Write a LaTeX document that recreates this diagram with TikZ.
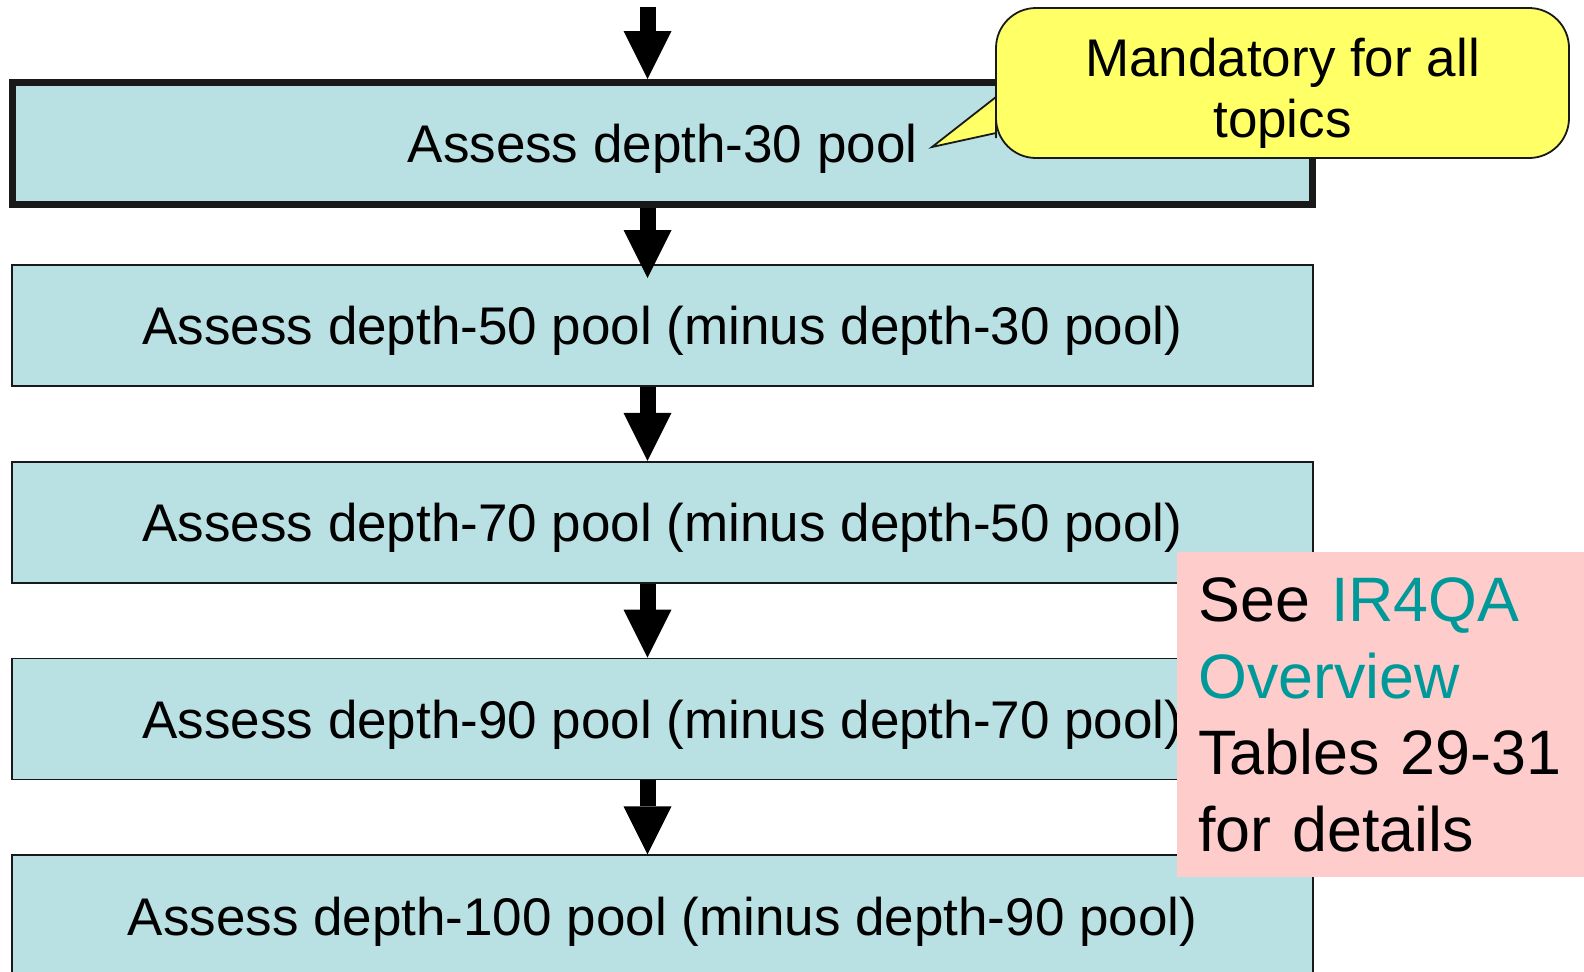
\documentclass[tikz,border=0pt]{standalone}
\usepackage{fontspec}
\setmainfont{Liberation Sans}
\usepackage{xcolor}
\usetikzlibrary{arrows.meta,positioning}

\definecolor{poolcyan}{RGB}{185,224,227}
\definecolor{noteyellow}{RGB}{255,255,102}
\definecolor{seepink}{RGB}{255,204,204}
\definecolor{linkteal}{RGB}{0,153,153}

\begin{document}
\begin{tikzpicture}[
  x=0.5pt, y=-0.5pt,
  font=\fontsize{26.5pt}{31.8pt}\selectfont,
  pool/.style={draw=black!90, line width=0.9pt, fill=poolcyan,
               minimum width=650.5pt, minimum height=60.5pt, inner sep=0pt,
               text height=19.2pt, text depth=0pt},
  firstpool/.style={pool, line width=3.5pt, minimum width=649.75pt, minimum height=61pt},
  arr/.style={line width=8pt, -{Triangle[width=24pt, length=24pt, line width=0pt]}},
  note/.style={draw=black!90, line width=0.9pt, fill=noteyellow},
  see/.style={fill=seepink, anchor=north west, align=left, text width=190pt,
              inner xsep=10.5pt, inner ysep=0pt, minimum height=162.5pt,
              font=\fontsize{31.4pt}{38.3pt}\selectfont}
]
\useasboundingbox (0,0) rectangle (1584,971);
\clip (0,0) rectangle (1584,971);
% --- assessment pools ---
\node[firstpool] (b1) at (662.5,143.5) {Assess depth-30 pool};
\node[pool, below=28pt of b1] (b2) {Assess depth-50 pool (minus depth-30 pool)};
\node[pool, below=37pt of b2] (b3) {Assess depth-70 pool (minus depth-50 pool)};
\node[pool, below=37pt of b3] (b4) {Assess depth-90 pool (minus depth-70 pool)};
\node[pool, below=37pt of b4] (b5) {Assess depth-100 pool (minus depth-90 pool)};
% --- arrows ---
\coordinate (src) at (647.5,7);
\draw[arr] (src) -- (src |- b1.north);
\draw[arr, shorten >=-7pt] (b1.south -| src) -- (b2.north -| src);
\draw[arr] (b2.south -| src) -- (b3.north -| src);
\draw[arr] (b3.south -| src) -- (b4.north -| src);
\draw[arr] (b4.south -| src) -- (b5.north -| src);
% --- callout ---
\coordinate (tip) at (932,147);
\draw[note] (996,90) -- (996,97) -- (tip) -- (996,133) -- (996,138)
  [rounded corners=20pt] -- (996,158) -- (1569,158) -- (1569,8) -- (996,8) -- cycle;
\node[align=center, font=\fontsize{26.5pt}{30.5pt}\selectfont] (note) at (1282.5,93)
  {Mandatory for all\\topics};
% --- pointer to tables ---
\node[see] (see) at (1177,552) {See \textcolor{linkteal}{IR4QA}\\
  \textcolor{linkteal}{Overview}\\Tables 29-31\\for details};
\end{tikzpicture}
\end{document}
